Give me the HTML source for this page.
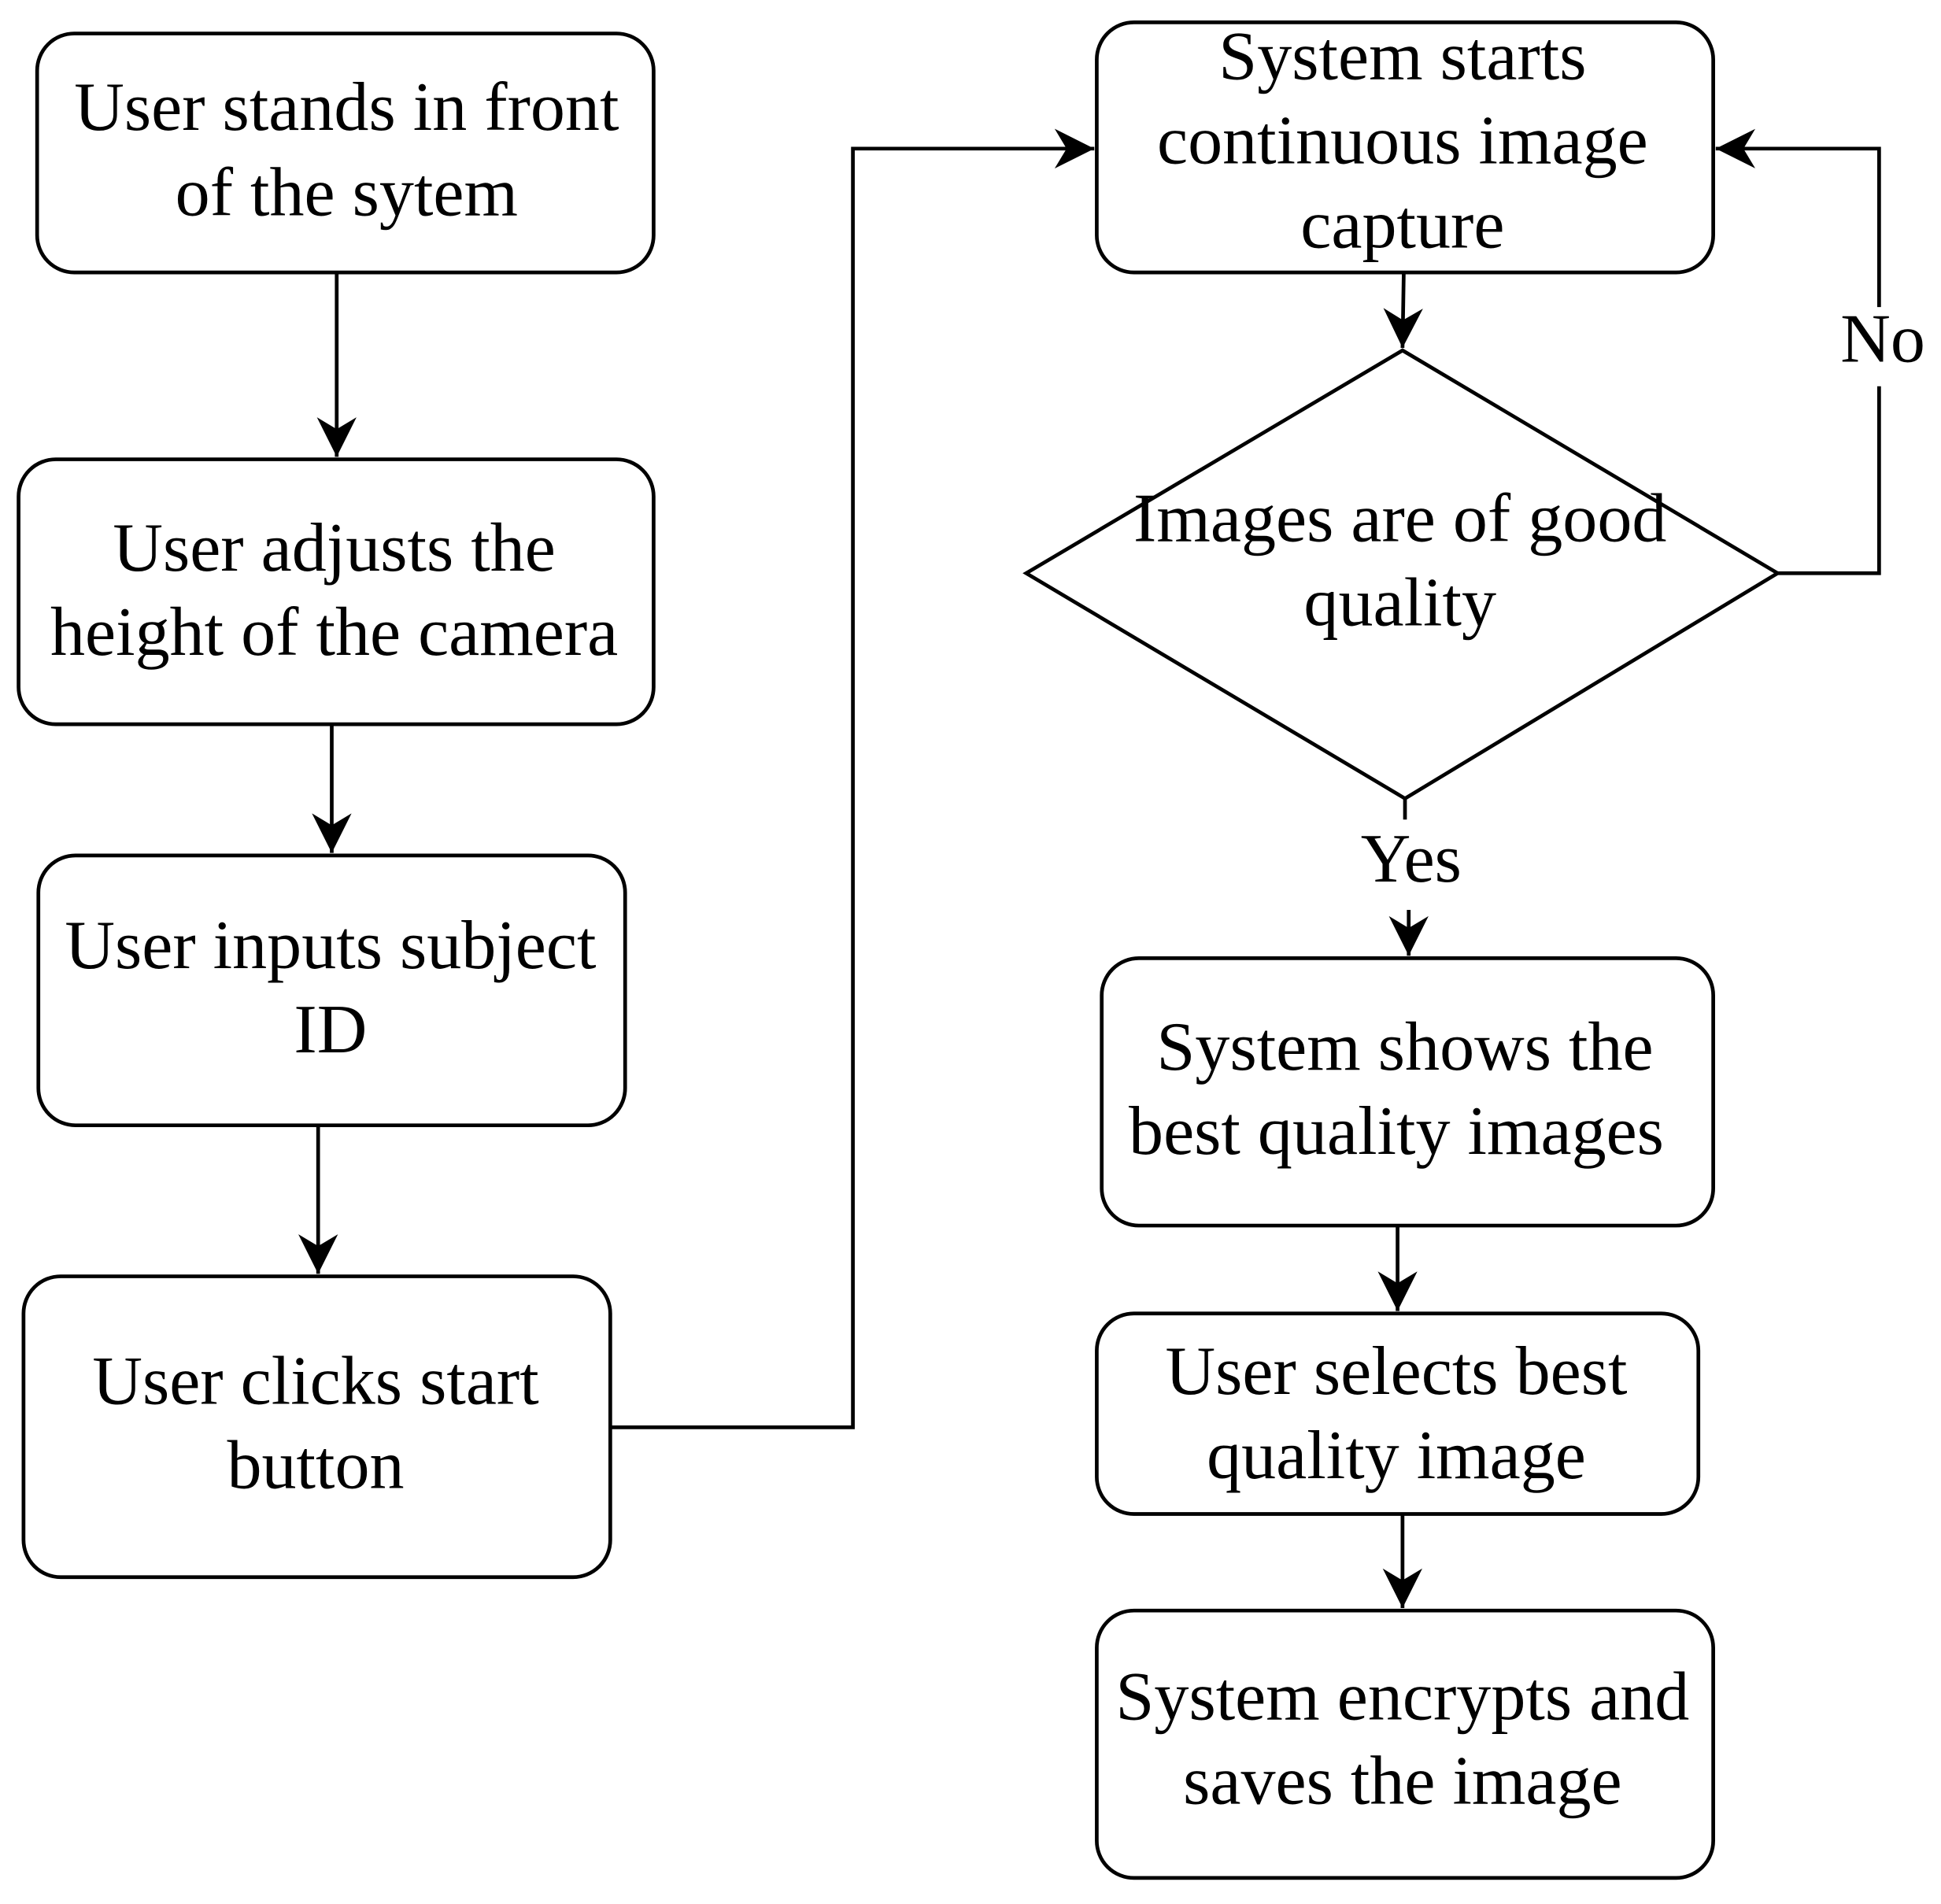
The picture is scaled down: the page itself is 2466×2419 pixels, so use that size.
<!DOCTYPE html>
<html><head><meta charset="utf-8"><style>html,body{margin:0;padding:0;background:#fff}svg{display:block}</style></head>
<body>
<svg width="2466" height="2419" viewBox="0 0 1568 1538" xmlns="http://www.w3.org/2000/svg">
<defs><marker id="a" viewBox="0 0 10 10" refX="10" refY="5" markerWidth="32" markerHeight="32" markerUnits="userSpaceOnUse" orient="auto"><path d="M0,0 L10,5 L0,10 L3,5 z" fill="#000"/></marker></defs>
<g fill="#fff" stroke="#000" stroke-width="3">
<rect x="30" y="27" width="498" height="193" rx="30"/>
<rect x="15" y="371" width="513" height="214" rx="30"/>
<rect x="31" y="691" width="474" height="218" rx="30"/>
<rect x="19" y="1031" width="474" height="243" rx="30"/>
<rect x="886" y="18" width="498" height="202" rx="30"/>
<polygon points="829,463 1133,283 1436,463 1135,645"/>
<rect x="890" y="774" width="494" height="216" rx="30"/>
<rect x="886" y="1061" width="486" height="162" rx="30"/>
<rect x="886" y="1301" width="498" height="216" rx="30"/>
</g>
<g fill="none" stroke="#000" stroke-width="3">
<path d="M272 220 V369" marker-end="url(#a)"/>
<path d="M268 585 V689" marker-end="url(#a)"/>
<path d="M257 909 V1029" marker-end="url(#a)"/>
<path d="M493 1153 H689 V120 H884" marker-end="url(#a)"/>
<path d="M1134 220 L1133 281" marker-end="url(#a)"/>
<path d="M1436 463 H1518 V312 M1518 248 V120 H1386" marker-end="url(#a)"/>
<path d="M1135 645 V662 M1138 735 V772" marker-end="url(#a)"/>
<path d="M1129 990 V1059" marker-end="url(#a)"/>
<path d="M1133 1223 V1299" marker-end="url(#a)"/>
</g>
<g font-family="'Liberation Serif',serif" font-size="56" text-anchor="middle" fill="#000">
<text x="280" y="105">User stands in front</text><text x="280" y="174">of the sytem</text>
<text x="270" y="461">User adjusts the</text><text x="270" y="529">height of the camera</text>
<text x="267" y="782">User inputs subject</text><text x="267" y="850">ID</text>
<text x="255" y="1134">User clicks start</text><text x="255" y="1202">button</text>
<text x="1133" y="64">System starts</text><text x="1133" y="132">continuous image</text><text x="1133" y="200">capture</text>
<text x="1131" y="437">Images are of good</text><text x="1131" y="505">quality</text>
<text x="1135" y="864">System shows the</text><text x="1128" y="932">best quality images</text>
<text x="1128" y="1126">User selects best</text><text x="1128" y="1194">quality image</text>
<text x="1133" y="1389">System encrypts and</text><text x="1133" y="1457">saves the image</text>
<text x="1521" y="292">No</text>
<text x="1140" y="712">Yes</text>
</g>
</svg>
</body></html>
